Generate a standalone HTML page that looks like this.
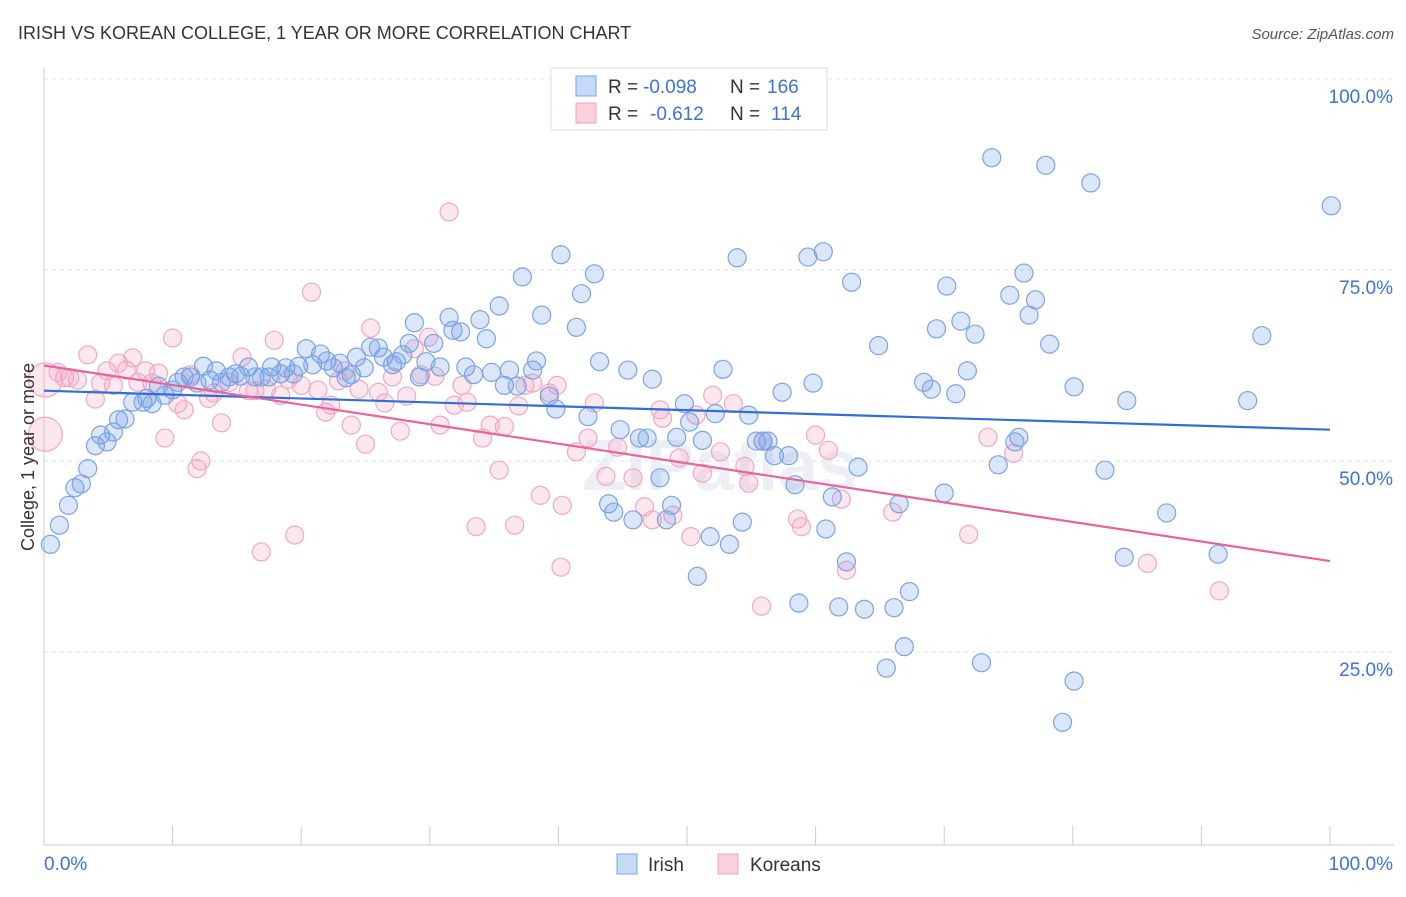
<!DOCTYPE html>
<html><head><meta charset="utf-8"><style>
body{margin:0;background:#fff;font-family:"Liberation Sans",sans-serif;}
svg text{font-family:"Liberation Sans",sans-serif;}
</style></head><body>
<svg id="chart" width="1406" height="892" xmlns="http://www.w3.org/2000/svg">
<text x="18" y="39" font-size="18" fill="#333">IRISH VS KOREAN COLLEGE, 1 YEAR OR MORE CORRELATION CHART</text>
<text x="1394" y="39" font-size="15" fill="#555" font-style="italic" text-anchor="end">Source: ZipAtlas.com</text>
<text x="720" y="490" font-size="72" fill="#eceff5" text-anchor="middle" font-weight="bold">ZIPatlas</text>
<g id="grid"></g>
<g id="marks"></g>
<text transform="translate(34,457) rotate(-90)" font-size="18" fill="#333" text-anchor="middle">College, 1 year or more</text>
<g>
<rect x="551" y="68" width="276" height="62" fill="#fff" stroke="#ddd"/>
<rect x="576" y="76" width="20" height="20" fill="#c6d9f7" stroke="#7aa4e6"/>
<rect x="576" y="103" width="20" height="20" fill="#fbd0dd" stroke="#f0a0bc"/>
<text x="608" y="93" font-size="19" fill="#333">R =</text>
<text x="643" y="93" font-size="19" fill="#3b73d6">-0.098</text>
<text x="730" y="93" font-size="19" fill="#333">N =</text>
<text x="767" y="93" font-size="19" fill="#3b73d6">166</text>
<text x="608" y="120" font-size="19" fill="#333">R =</text>
<text x="650" y="120" font-size="19" fill="#3b73d6">-0.612</text>
<text x="730" y="120" font-size="19" fill="#333">N =</text>
<text x="771" y="120" font-size="19" fill="#3b73d6">114</text>
</g>
<g>
<rect x="617" y="854" width="20" height="20" fill="#c6d9f7" stroke="#7aa4e6"/>
<text x="648" y="871" font-size="19" fill="#333">Irish</text>
<rect x="718" y="854" width="20" height="20" fill="#fbd0dd" stroke="#f0a0bc"/>
<text x="750" y="871" font-size="19" fill="#333">Koreans</text>
</g>
</svg>
<script>
const irishX=[0.5,1.2,1.9,2.4,2.9,3.4,4.0,4.4,4.9,5.4,5.8,6.3,6.9,7.7,8.0,8.4,8.9,9.4,10.0,10.4,10.9,11.4,11.9,12.4,12.9,13.4,13.8,14.4,14.9,15.3,15.9,16.4,16.9,17.5,17.7,18.4,18.8,19.4,19.8,20.4,20.9,21.5,22.0,22.5,23.0,23.5,23.9,24.3,24.9,25.4,26.0,26.4,27.1,27.4,27.9,28.4,28.8,29.2,29.7,30.3,30.8,31.5,31.8,32.4,32.8,33.4,33.9,34.4,34.8,35.4,35.8,36.2,36.8,37.2,38.0,38.3,38.7,39.3,39.8,40.2,41.4,41.8,42.3,42.8,43.2,43.9,44.3,44.8,45.4,45.8,46.3,46.9,47.3,47.9,48.4,48.8,49.2,49.8,50.2,50.8,51.2,51.8,52.2,52.8,53.3,53.9,54.3,54.8,55.4,55.9,56.3,56.8,57.4,57.9,58.4,58.7,59.4,59.8,60.6,60.8,61.3,61.8,62.4,62.8,63.3,63.8,64.9,65.5,66.1,66.5,66.9,67.3,68.4,69.0,69.4,70.0,70.2,70.9,71.3,71.8,72.4,72.9,73.7,74.2,75.1,75.5,75.8,76.2,76.6,77.1,77.9,78.2,79.2,80.1,80.1,81.4,82.5,84.0,84.2,87.3,91.3,93.6,94.7,100.1];
const irishY=[39.1,41.6,44.2,46.5,47.0,49.0,52.0,53.4,52.5,53.8,55.4,55.5,57.7,57.7,58.2,57.5,59.8,58.6,59.3,60.3,61.0,61.0,60.2,62.4,60.6,61.8,60.3,61.0,61.4,61.1,62.3,61.0,61.0,61.0,62.3,61.4,62.2,61.4,62.4,64.7,62.6,64.0,63.1,62.2,62.8,60.9,61.3,63.6,62.2,64.9,64.8,63.6,62.6,63.0,63.9,65.4,68.1,61.0,63.0,65.4,62.3,68.8,67.1,66.9,62.3,61.3,68.5,66.0,61.6,70.3,59.9,61.9,59.8,74.1,61.9,63.1,69.1,58.5,56.8,77.0,67.5,71.9,55.8,74.5,63.0,44.4,43.3,54.1,61.9,42.3,53.0,53.0,60.7,47.8,42.3,44.2,53.1,57.5,55.1,34.9,52.7,40.1,56.2,62.0,39.1,76.6,42.0,56.0,52.6,52.6,52.6,50.7,59.0,50.7,46.9,31.4,76.7,60.2,77.4,41.1,45.3,30.9,36.8,73.4,49.2,30.6,65.1,22.9,30.8,44.4,25.7,32.9,60.3,59.4,67.3,45.8,72.9,58.8,68.3,61.8,66.6,23.6,89.7,49.5,71.7,52.5,53.1,74.6,69.1,71.1,88.7,65.3,15.8,59.7,21.2,86.4,48.8,37.4,57.9,43.2,37.8,57.9,66.4,83.4];
const korX=[1.1,1.6,2.0,2.6,3.4,4.0,4.4,4.9,5.4,5.8,6.4,6.9,7.3,7.9,8.4,8.9,9.4,10.0,10.4,10.9,11.4,11.9,12.2,12.8,13.2,13.8,14.4,15.4,15.9,16.4,16.9,17.3,17.9,18.4,19.0,19.5,20.0,20.8,21.3,21.9,22.3,22.9,23.4,23.9,24.5,25.0,25.4,26.0,26.5,27.1,27.7,28.2,28.8,29.3,29.9,30.4,30.8,31.5,31.9,32.5,32.9,33.6,34.1,34.7,35.4,35.8,36.6,36.9,37.4,38.0,38.6,39.3,39.9,40.2,40.3,41.4,42.3,42.8,43.7,44.6,45.8,46.7,47.3,47.9,48.1,48.9,49.4,50.3,50.7,51.2,52.0,52.6,53.6,54.5,54.8,55.8,55.9,58.6,58.9,60.0,61.0,62.0,62.4,66.0,71.9,73.4,75.4,85.8,91.4];
const korY=[61.6,60.9,60.9,60.6,63.9,58.1,60.2,61.8,59.9,62.8,61.9,63.5,60.3,61.8,60.2,61.5,53.0,66.1,57.5,56.7,61.3,49.0,50.0,58.2,58.9,55.0,60.3,63.6,59.2,59.2,38.1,59.4,65.8,58.6,60.7,40.3,59.9,72.1,59.3,56.4,57.3,60.5,61.8,54.7,59.4,52.2,67.4,59.0,57.6,61.0,53.9,58.5,64.7,61.3,66.2,61.1,54.7,82.6,57.3,59.9,57.7,41.4,53.0,54.7,48.8,54.5,41.6,57.2,59.9,60.2,45.5,58.9,59.9,36.1,44.2,51.2,53.0,57.6,48.0,51.8,47.8,44.0,42.3,56.7,55.6,42.9,50.4,40.1,56.0,48.4,58.6,51.2,57.5,49.3,47.1,31.0,52.6,42.4,41.4,53.4,51.4,45.0,35.7,43.3,40.4,53.1,51.0,36.6,33.0];
const bigKorX=[0.1,0.1], bigKorY=[60.6,53.5];
const irishTrend=[59.2,54.1], korTrend=[62.5,36.9];
const yTicks=[25,50,75,100];
const xTicks=[0,10,20,30,40,50,60,70,80,90,100];

const X0=44,X1=1330,YTOP=79,YBOT=843;
const sx=v=>X0+(X1-X0)*v/100;
const sy=v=>YBOT-(YBOT-YTOP)*v/100;
const NS="http://www.w3.org/2000/svg";
const grid=document.getElementById('grid'), marks=document.getElementById('marks');
function mk(tag,attrs,parent){const e=document.createElementNS(NS,tag);for(const k in attrs)e.setAttribute(k,attrs[k]);parent.appendChild(e);return e;}

yTicks.forEach(t=>{
  const l=mk('line',{x1:44,x2:1394,y1:sy(t),y2:sy(t),stroke:'#dde3ea','stroke-dasharray':'4,4'},grid);
  
  
  const tx=mk('text',{x:1393,y:sy(t)+24,'font-size':19,fill:'#3b73d6','text-anchor':'end'},grid);
  tx.textContent=t.toFixed(1)+'%';
  
  
});
const ax=mk('line',{x1:44,x2:1394,y1:845,y2:845,stroke:'#ccc'},grid);


const ay=mk('line',{x1:44,x2:44,y1:68,y2:845,stroke:'#ccc'},grid);


xTicks.forEach(t=>{
  const l=mk('line',{x1:sx(t),x2:sx(t),y1:826,y2:845,stroke:'#ccc'},grid);
  
  
});
[[0,'start',44],[100,'end',1393]].forEach(([t,a,x])=>{
  const tx=mk('text',{x:x,y:870,'font-size':19,fill:'#3b73d6','text-anchor':a},grid);
  tx.textContent=t.toFixed(1)+'%';
  
  
});

function dots(xs,ys,fill,stroke,name,r){
  xs.forEach((v,i)=>{
    const c=mk('circle',{cx:sx(v),cy:sy(ys[i]),r:r,fill:fill,stroke:stroke,'stroke-width':1.2},marks);
    
    
  });
}
dots(korX,korY,'rgba(245,160,190,0.25)','#f0a8c0','korean-point',9);
dots(bigKorX,bigKorY,'rgba(245,160,190,0.25)','#f0a8c0','korean-point-large',17);
dots(irishX,irishY,'rgba(110,155,230,0.25)','#7aa4e6','irish-point',9);

const t1=mk('line',{x1:sx(0),y1:sy(irishTrend[0]),x2:sx(100),y2:sy(irishTrend[1]),stroke:'#2f6fd6','stroke-width':2.2},marks);


const t2=mk('line',{x1:sx(0),y1:sy(korTrend[0]),x2:sx(100),y2:sy(korTrend[1]),stroke:'#e8649a','stroke-width':2.2},marks);


</script>
</body></html>
